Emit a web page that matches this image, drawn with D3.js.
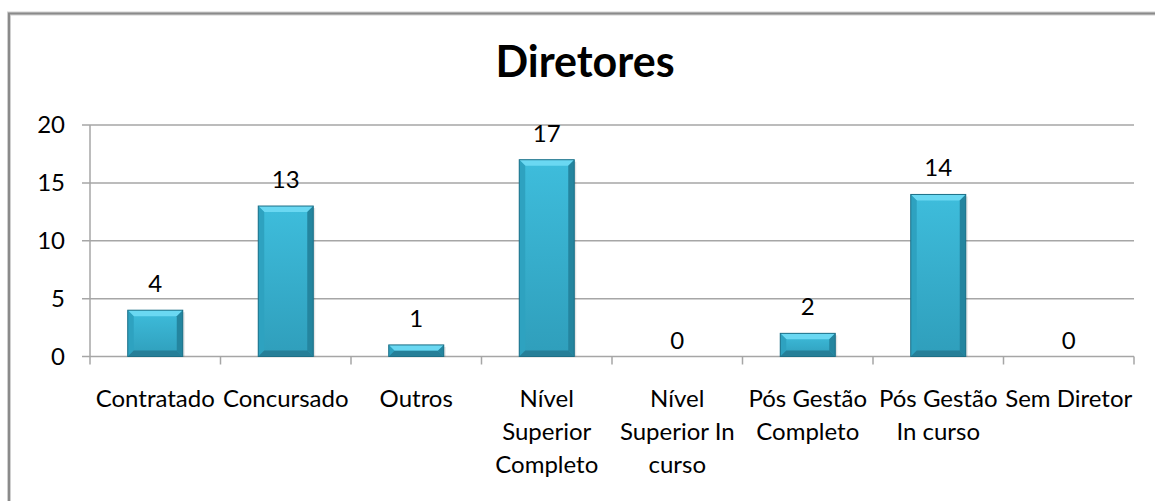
<!DOCTYPE html>
<html>
<head>
<meta charset="utf-8">
<script src="https://cdn.jsdelivr.net/npm/d3@7"></script>
<style>
  html, body { margin: 0; padding: 0; background: #fff; }
  svg { display: block; }
  text { font-family: Lato, "Open Sans", sans-serif; fill: #000; }
</style>
</head>
<body>
<svg id="chart" width="1155" height="501"></svg>
<script>
const title = "Diretores";
const categories = [
  ["Contratado"],
  ["Concursado"],
  ["Outros"],
  ["Nível", "Superior", "Completo"],
  ["Nível", "Superior In", "curso"],
  ["Pós Gestão", "Completo"],
  ["Pós Gestão", "In curso"],
  ["Sem Diretor"]
];
const values = [4, 13, 1, 17, 0, 2, 14, 0];
const yTicks = [0, 5, 10, 15, 20];

const svg = d3.select("#chart");
const W = 1155, H = 501;
const plot = { left: 90, right: 1134, top: 125, bottom: 356.5 };

// chart border (top and left visible)
svg.append("path")
  .attr("d", `M9,${H} L9,13.5 L${W},13.5`)
  .attr("fill", "none").attr("stroke", "#d0d0d0").attr("stroke-width", 4);
svg.append("path")
  .attr("d", `M9,${H} L9,13.5 L${W},13.5`)
  .attr("fill", "none").attr("stroke", "#8a8a8a").attr("stroke-width", 2);

const x = d3.scaleBand().domain(d3.range(categories.length))
  .range([plot.left, plot.right]).paddingInner(0).paddingOuter(0);
const y = d3.scaleLinear().domain([0, 20]).range([plot.bottom, plot.top]);

// gradients
const defs = svg.append("defs");
const g = defs.append("linearGradient").attr("id", "barGrad")
  .attr("x1", 0).attr("y1", 0).attr("x2", 0).attr("y2", 1);
g.append("stop").attr("offset", "0%").attr("stop-color", "#3ebddc");
g.append("stop").attr("offset", "100%").attr("stop-color", "#2f9ebb");

// gridlines
svg.append("g").selectAll("line").data(yTicks).join("line")
  .attr("x1", plot.left - 8).attr("x2", plot.right)
  .attr("y1", d => y(d)).attr("y2", d => y(d))
  .attr("stroke", "#a6a6a6").attr("stroke-width", 1.5);

// y axis line
svg.append("line")
  .attr("x1", plot.left).attr("x2", plot.left)
  .attr("y1", plot.top).attr("y2", plot.bottom + 8)
  .attr("stroke", "#a6a6a6").attr("stroke-width", 1.5);

// x tick marks at category boundaries
const bounds = d3.range(categories.length + 1).map(i => plot.left + i * x.step());
svg.append("g").selectAll("line").data(bounds.slice(1)).join("line")
  .attr("x1", d => d).attr("x2", d => d)
  .attr("y1", plot.bottom).attr("y2", plot.bottom + 8)
  .attr("stroke", "#a6a6a6").attr("stroke-width", 1.5);

// y tick labels
svg.append("g").selectAll("text").data(yTicks).join("text")
  .attr("x", 65).attr("y", d => y(d) + 8)
  .attr("text-anchor", "end").attr("font-size", 24)
  .text(d => d);

// bars with bevel
const bw = 55, bev = 6;
const bars = svg.append("g").selectAll("g").data(values.map((v, i) => ({ v, i }))).join("g")
  .filter(d => d.v > 0);
bars.each(function(d) {
  const gsel = d3.select(this);
  const cx = x(d.i) + x.bandwidth() / 2;
  const x0 = cx - bw / 2, x1 = cx + bw / 2;
  const y0 = y(d.v), y1 = y(0);
  const b = Math.min(bev, (y1 - y0) / 2);
  // soft shadow
  gsel.append("rect").attr("x", x0 + 2).attr("y", y0 + 2).attr("width", bw).attr("height", y1 - y0 - 2)
    .attr("fill", "#000").attr("opacity", 0.1);
  gsel.append("rect").attr("x", x0).attr("y", y0).attr("width", bw).attr("height", y1 - y0)
    .attr("fill", "url(#barGrad)");
  // top bevel
  gsel.append("path").attr("d", `M${x0},${y0} L${x1},${y0} L${x1 - b},${y0 + b} L${x0 + b},${y0 + b} Z`)
    .attr("fill", "#6ad8f2");
  // left bevel
  gsel.append("path").attr("d", `M${x0},${y0} L${x0 + b},${y0 + b} L${x0 + b},${y1 - b} L${x0},${y1} Z`)
    .attr("fill", "#2ea2c0");
  // right bevel
  gsel.append("path").attr("d", `M${x1},${y0} L${x1 - b},${y0 + b} L${x1 - b},${y1 - b} L${x1},${y1} Z`)
    .attr("fill", "#24859f");
  // bottom bevel
  gsel.append("path").attr("d", `M${x0},${y1} L${x0 + b},${y1 - b} L${x1 - b},${y1 - b} L${x1},${y1} Z`)
    .attr("fill", "#267f98");
  gsel.append("rect").attr("x", x0).attr("y", y0).attr("width", bw).attr("height", y1 - y0)
    .attr("fill", "none").attr("stroke", "#1d6f86").attr("stroke-width", 1);
});

// value labels
svg.append("g").selectAll("text").data(values).join("text")
  .attr("x", (d, i) => x(i) + x.bandwidth() / 2)
  .attr("y", d => y(d) - (d === 0 ? 8 : 18))
  .attr("text-anchor", "middle").attr("font-size", 24)
  .text(d => d);

// category labels
const cat = svg.append("g").selectAll("text").data(categories).join("text")
  .attr("text-anchor", "middle").attr("font-size", 24)
  .attr("x", (d, i) => x(i) + x.bandwidth() / 2)
  .attr("y", 407);
cat.selectAll("tspan").data(d => d).join("tspan")
  .attr("x", function() { return d3.select(this.parentNode).attr("x"); })
  .attr("dy", (d, j) => j === 0 ? 0 : 32.8)
  .text(d => d);

// title
svg.append("text").attr("x", 585).attr("y", 77)
  .attr("text-anchor", "middle").attr("font-size", 43).attr("font-weight", "bold")
  .text(title);
</script>
</body>
</html>
